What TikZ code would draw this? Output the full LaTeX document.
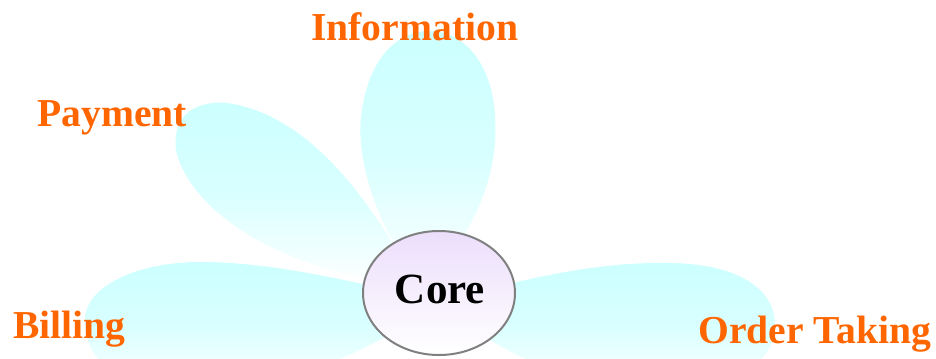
\documentclass[tikz,border=0pt]{standalone}
\usepackage{fontspec}
\setmainfont{Liberation Serif}
\usetikzlibrary{shapes.geometric}
\definecolor{petalc}{RGB}{204,255,255}
\definecolor{corec}{RGB}{236,222,252}
\definecolor{coreborder}{RGB}{128,128,128}
\definecolor{labelc}{RGB}{255,102,0}
\tikzset{
  petal/.style={top color=petalc, bottom color=white, middle color=petalc!75!white, draw=none},
  lbl/.style={anchor=base west, inner sep=0pt, text=labelc, font=\fontsize{29.7}{32}\selectfont\bfseries},
  coreshape/.style={ellipse, draw=coreborder, line width=1.5pt, top color=corec, bottom color=white, minimum width=114pt, minimum height=93pt, inner sep=0pt},
  coretext/.style={anchor=base, inner sep=0pt, font=\fontsize{32.3}{34}\selectfont\bfseries}
}
\begin{document}
\begin{tikzpicture}[x=0.75pt,y=-0.75pt]
\useasboundingbox (0,0) rectangle (936,358);
\clip (0,0) rectangle (936,358);
% Information petal
\path[petal] (425,290) .. controls (370,220) and (355,150) .. (362,110)
  .. controls (370,55) and (400,31) .. (429,31)
  .. controls (465,31) and (492,65) .. (495,115)
  .. controls (498,160) and (488,215) .. (425,290) -- cycle;
% Payment petal
\path[petal] (415,282) .. controls (370,200) and (310,115) .. (227,103)
  .. controls (190,100) and (172,120) .. (176,150)
  .. controls (185,195) and (250,265) .. (415,288) -- cycle;
% Billing petal
\path[petal] (430,300) .. controls (330,275) and (260,262) .. (200,262)
  .. controls (140,262) and (85,285) .. (85,320)
  .. controls (85,370) and (130,390) .. (200,390)
  .. controls (300,390) and (380,340) .. (430,312) -- cycle;
% Order Taking petal
\path[petal] (445,300) .. controls (540,275) and (600,262) .. (670,263)
  .. controls (740,264) and (775,290) .. (775,325)
  .. controls (775,370) and (720,390) .. (650,390)
  .. controls (560,390) and (490,340) .. (445,312) -- cycle;
% Core
\node[coreshape] (core) at (439,293) {};
\node[coretext] (coretxt) at (440,303) {Core};
% Labels
\node[lbl] (info) at (311,40) {Information};
\node[lbl] (pay) at (37,126) {Payment};
\node[lbl] (bill) at (13,338) {Billing};
\node[lbl] (order) at (698,343) {Order Taking};
\end{tikzpicture}
\end{document}
